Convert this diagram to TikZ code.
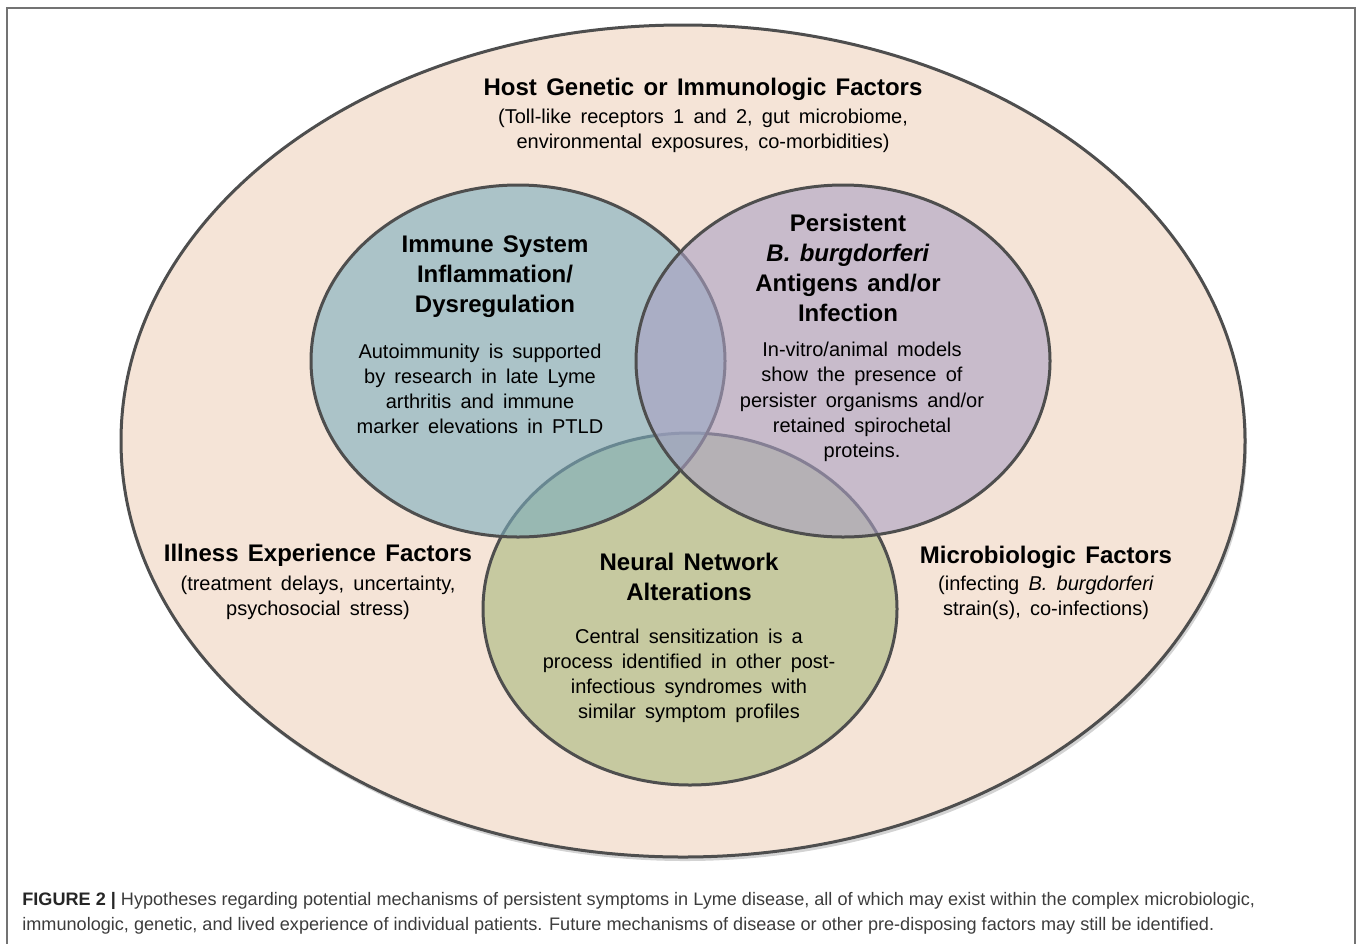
\documentclass[tikz,border=0pt]{standalone}
\usepackage{fontspec}
\setmainfont{Liberation Sans}
\usetikzlibrary{shadows}

\definecolor{hostpeach}{RGB}{245,228,215}
\definecolor{immuneblue}{RGB}{122,173,190}
\definecolor{antigenlilac}{RGB}{170,161,195}
\definecolor{neuralolive}{RGB}{198,201,160}
\definecolor{rimgray}{RGB}{78,78,78}
\definecolor{captiongray}{RGB}{60,60,60}

% wide word gaps, as in the slide text
\newcommand{\headfont}{\fontsize{12}{15}\selectfont\bfseries\spaceskip=0.39em\relax}
\newcommand{\notefont}{\fontsize{10}{12.6}\selectfont\spaceskip=0.46em\relax}

\tikzset{
  set/.style={draw=rimgray, line width=1.5pt},
  head/.style={font=\headfont, align=center, inner sep=0pt},
  note/.style={font=\notefont, align=center, inner sep=0pt},
}

\begin{document}
\begin{tikzpicture}[x=0.5pt, y=-0.5pt]
\useasboundingbox (0,0) rectangle (1358,943);
\draw [black!55, line width=1pt] (7,8) rectangle (1355,990);

% host factors: the big ellipse round everything
\draw [set, fill=hostpeach, drop shadow={shadow xshift=1pt, shadow yshift=-2pt, opacity=0.35}] (683,441) ellipse [x radius=562, y radius=416];

% the three mechanisms, green first so the others show through
\draw [set, fill=neuralolive] (690,609) ellipse [x radius=207, y radius=176];
\draw [set, fill=immuneblue, fill opacity=0.6] (518,361) ellipse [x radius=207, y radius=176];
\draw [set, fill=antigenlilac, fill opacity=0.6] (843,361) ellipse [x radius=207, y radius=176];

\node [head] (host) at (703,89) {Host Genetic or Immunologic Factors};
\node [note] (hostnote) at (703,131) {(Toll-like receptors 1 and 2, gut microbiome,\\ environmental exposures, co-morbidities)};

\node [head] (immune) at (495,276.5) {Immune System\\ Inflammation/\\ Dysregulation};
\node [note] (immunenote) at (480,389) {Autoimmunity is supported\\ by research in late Lyme\\ arthritis and immune\\ marker elevations in PTLD};

\node [head] (antigen) at (848,267.5) {Persistent\\ \textit{B. burgdorferi}\\ Antigens and/or\\ Infection};
\node [note] (antigennote) at (862,402) {In-vitro/animal models\\ show the presence of\\ persister organisms and/or\\ retained spirochetal\\ proteins.};

\node [head] (neural) at (689,577) {Neural Network\\ Alterations};
\node [note] (neuralnote) at (689,676) {Central sensitization is a\\ process identified in other post-\\ infectious syndromes with\\ similar symptom profiles};

\node [head] (illness) at (318,555) {Illness Experience Factors};
\node [note] (illnessnote) at (318,597.5) {(treatment delays, uncertainty,\\ psychosocial stress)};

\node [head] (microbe) at (1046,557) {Microbiologic Factors};
\node [note] (microbenote) at (1046,598) {(infecting \textit{B. burgdorferi}\\ strain(s), co-infections)};

% caption under the picture
\node [anchor=west, align=left, inner sep=0pt, font=\fontsize{9.05}{12.5}\selectfont, text=captiongray] (caption) at (22,913.5)
  {{\bfseries\color{black!85}FIGURE 2 |} Hypotheses regarding potential mechanisms of persistent symptoms in Lyme disease, all of which may exist within the complex microbiologic,\\
  immunologic, genetic, and lived experience of individual patients. Future mechanisms of disease or other pre-disposing factors may still be identified.};
\end{tikzpicture}
\end{document}
